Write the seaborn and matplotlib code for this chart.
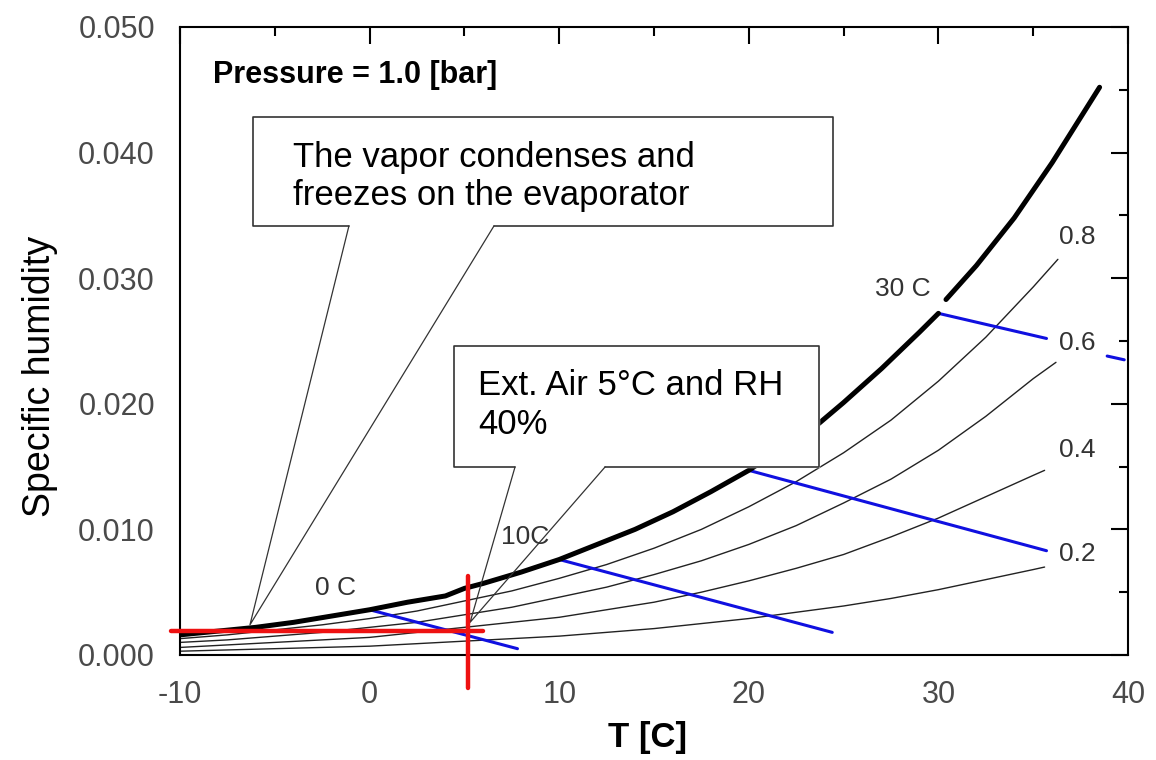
import matplotlib
matplotlib.use("Agg")
import matplotlib.pyplot as plt
from matplotlib.ticker import MultipleLocator, FormatStrFormatter
import numpy as np
import pandas as pd
import seaborn as sns

# saturation line (thick); gaps where the original was broken
sat_T = [-10, -8, -6, -4, -2, 0, 2, 4, 5, 6, 8, 10, 12, 14, 16, 18, 20, 21.5,
         np.nan, 23.2, 25, 27, 29, 30, np.nan, 30.4, 32, 34, 36, 38.5]
sat_q = [0.0016, 0.0019, 0.0022, 0.0026, 0.0031, 0.0036, 0.0042, 0.0047, 0.0053,
         0.0057, 0.0066, 0.0076, 0.0088, 0.0100, 0.0114, 0.0130, 0.0147, 0.0162,
         np.nan, 0.0178, 0.0201, 0.0228, 0.0257, 0.0272, np.nan, 0.0283, 0.0310,
         0.0348, 0.0392, 0.0452]

# relative humidity lines (thin)
rh_T = [-10, -7.5, -5, -2.5, 0, 2.5, 5, 7.5, 10, 12.5, 15, 17.5, 20, 22.5, 25,
        27.5, 30, 32.5, 35]
rh_08 = [0.0013, 0.0016, 0.0020, 0.0024, 0.0029, 0.0035, 0.0043, 0.0051, 0.0061,
         0.0072, 0.0085, 0.0100, 0.0118, 0.0138, 0.0161, 0.0187, 0.0218, 0.0253, 0.0293]
rh_06 = [0.0010, 0.0012, 0.0015, 0.0018, 0.0022, 0.0026, 0.0032, 0.0038, 0.0046,
         0.0054, 0.0064, 0.0075, 0.0088, 0.0103, 0.0121, 0.0140, 0.0163, 0.0190, 0.0220]
rh_04 = [0.0006, 0.0008, 0.0010, 0.0012, 0.0014, 0.0018, 0.0022, 0.0026, 0.0030,
         0.0036, 0.0042, 0.0050, 0.0059, 0.0069, 0.0080, 0.0094, 0.0109, 0.0126, 0.0143]
rh_02 = [0.0003, 0.0004, 0.0005, 0.0006, 0.0007, 0.0009, 0.0011, 0.0013, 0.0015,
         0.0018, 0.0021, 0.0025, 0.0029, 0.0034, 0.0039, 0.0045, 0.0052, 0.0060, 0.0068]
rh_end_T = [36.3, 36.2, 35.6, 35.6]
rh_end_q = [0.0315, 0.0233, 0.0147, 0.0070]
rh_names = ["0.8", "0.6", "0.4", "0.2"]
rh_label_q = [0.0333, 0.0248, 0.0163, 0.0080]

# wet bulb / enthalpy lines (blue)
wb_names = ["0 C", "10C", "20 C", "30 C"]
wb_T = [[0, 7.8], [10, 24.4], [20, 35.7], [30, 35.7, np.nan, 38.9, 39.8]]
wb_q = [[0.0036, 0.0005], [0.0076, 0.0018], [0.0147, 0.0083],
        [0.0272, 0.0252, np.nan, 0.0238, 0.0235]]

# outside air state point
ext_T = 5.2
ext_q = 0.0019

sns.set_style("white")
plt.rcParams["font.family"] = ["Liberation Sans", "DejaVu Sans"]
plt.rcParams["axes.unicode_minus"] = False

fig = plt.figure(figsize=(11.56, 7.6), dpi=100)
ax = fig.add_axes([0.1557, 0.1382, 0.8201, 0.8263])


def seg_plot(T, q, **kw):
    # split at NaN so seaborn does not join the pieces
    T = np.asarray(T, float)
    q = np.asarray(q, float)
    cut = np.where(np.isnan(T))[0]
    for part in np.split(np.arange(len(T)), cut):
        part = part[~np.isnan(T[part])]
        sns.lineplot(x=T[part], y=q[part], ax=ax, sort=False, estimator=None, **kw)


for vals, tq, eq in zip([rh_08, rh_06, rh_04, rh_02], rh_end_T, rh_end_q):
    seg_plot(rh_T + [tq], vals + [eq], color="#222222", lw=1.0, zorder=2)

for T, q in zip(wb_T, wb_q):
    seg_plot(T, q, color="#1010e0", lw=2.2, zorder=3)

seg_plot(sat_T, sat_q, color="black", lw=3.6, zorder=4)

# red cross at the outside-air state
ax.plot([-10.5, 6.0], [ext_q, ext_q], color="#ee1111", lw=3.2, clip_on=False, zorder=6)
ax.plot([ext_T, ext_T], [0.0063, -0.0026], color="#ee1111", lw=3.2, clip_on=False, zorder=6)

# callout boxes
def callout(x0, x1, y0, y1, g0, g1, tip):
    xs = [g0, x0, x0, x1, x1, g1, tip[0], g0]
    ys = [y0, y0, y1, y1, y0, y0, tip[1], y0]
    ax.fill(xs[:6], ys[:6], color="white", zorder=5)
    ax.plot(xs[:6], ys[:6], color="#333333", lw=1.2, zorder=5)
    ax.plot(xs[5:], ys[5:], color="#333333", lw=0.9, zorder=5)

callout(-6.15, 24.44, 0.03416, 0.04283, -1.09, 6.56, (-6.31, 0.0024))
callout(4.45, 23.70, 0.01497, 0.0246, 7.67, 12.42, (5.30, 0.0026))

ax.text(-4.04, 0.0381, "The vapor condenses and\nfreezes on the evaporator",
        fontsize=25, ha="left", va="center", color="black", zorder=7)
ax.text(5.72, 0.0199, "Ext. Air 5°C and RH\n40%",
        fontsize=25, ha="left", va="center", color="black", zorder=7)
ax.text(-8.26, 0.0462, "Pressure = 1.0 [bar]", fontsize=22, fontweight="bold",
        ha="left", va="center", color="black")

# curve labels
for name, lq in zip(rh_names, rh_label_q):
    ax.text(37.3, lq, name, fontsize=19, ha="center", va="center", color="#333333")
ax.text(-1.8, 0.0053, "0 C", fontsize=19, ha="center", va="center", color="#333333")
ax.text(8.2, 0.0094, "10C", fontsize=19, ha="center", va="center", color="#333333")
ax.text(28.1, 0.0291, "30 C", fontsize=19, ha="center", va="center", color="#333333")

ax.set_xlim(-10, 40)
ax.set_ylim(0, 0.05)
ax.xaxis.set_major_locator(MultipleLocator(10))
ax.xaxis.set_minor_locator(MultipleLocator(5))
ax.yaxis.set_major_locator(MultipleLocator(0.01))
ax.yaxis.set_minor_locator(MultipleLocator(0.005))
ax.yaxis.set_major_formatter(FormatStrFormatter("%.3f"))
ax.tick_params(which="both", direction="in", top=True, right=True, width=1.5,
               color="black", labelsize=22, labelcolor="#4a4a4a", pad=18)
ax.tick_params(which="major", length=12)
ax.tick_params(which="minor", length=6.5)
for sp in ax.spines.values():
    sp.set_color("black")
    sp.set_linewidth(1.5)

ax.set_xlabel("")
ax.set_ylabel("")
ax.text(-0.148, 0.444, "Specific humidity", transform=ax.transAxes, rotation=90,
        fontsize=27, ha="center", va="center", color="black")
ax.text(0.493, -0.132, "T [C]", transform=ax.transAxes, fontsize=25,
        fontweight="bold", ha="center", va="center", color="black")

fig.savefig("out.png", dpi=100)
